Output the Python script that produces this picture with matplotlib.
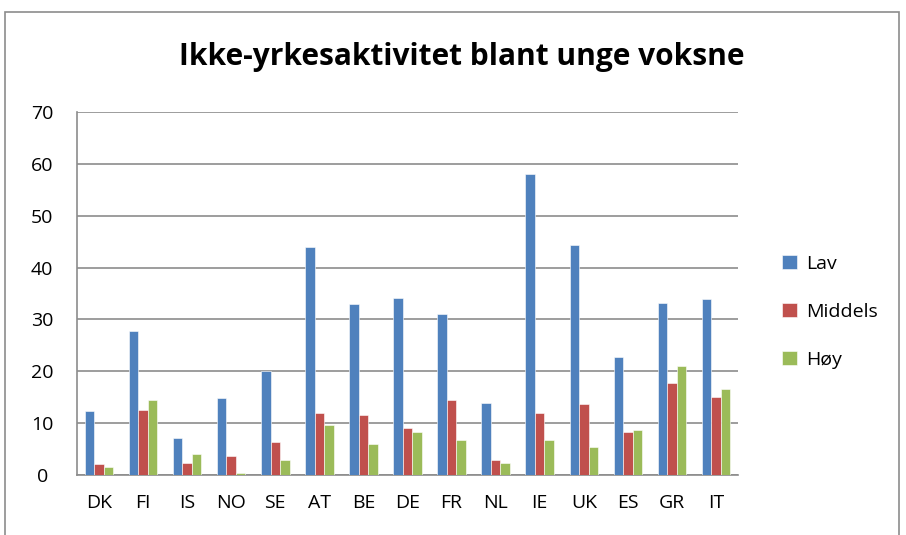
import matplotlib.pyplot as plt
import numpy as np
from matplotlib.patches import Rectangle

countries = ["DK", "FI", "IS", "NO", "SE", "AT", "BE", "DE", "FR", "NL", "IE", "UK", "ES", "GR", "IT"]
lav = [12.4, 27.7, 7.1, 14.8, 20.0, 44.0, 33.0, 34.2, 31.1, 13.9, 58.1, 44.4, 22.7, 33.1, 33.9]
middels = [2.2, 12.5, 2.4, 3.6, 6.4, 11.9, 11.6, 9.1, 14.4, 2.9, 12.0, 13.7, 8.2, 17.7, 15.0]
hoy = [1.6, 14.5, 4.0, 0.3, 2.9, 9.6, 6.0, 8.3, 6.7, 2.4, 6.7, 5.4, 8.7, 21.1, 16.5]

series = [("Lav", lav, "#4F81BD"), ("Middels", middels, "#C0504D"), ("Høy", hoy, "#9BBB59")]

plt.rcParams['font.family'] = ['Open Sans', 'DejaVu Sans']

W, H = 906, 535
fig = plt.figure(figsize=(W / 100, H / 100), dpi=100)
fig.patches.append(Rectangle((5 / W, -0.1), 894 / W, 1.1 - 12 / H, transform=fig.transFigure,
                             fill=False, edgecolor="#8c8c8c", linewidth=1.2))

ax = fig.add_axes([77 / W, 1 - 475 / H, (738 - 77) / W, (475 - 112) / H])

x = np.arange(len(countries))
w = 0.215
for i, (name, vals, col) in enumerate(series):
    ax.bar(x + (i - 1) * w, vals, w, color=col, edgecolor="white", linewidth=0.4, label=name, zorder=3)

ax.set_xlim(-0.5, len(countries) - 0.5)
ax.set_ylim(0, 70)
ax.set_yticks(range(0, 71, 10))
ax.set_xticks(x)
ax.set_xticklabels(countries)
ax.yaxis.grid(True, color="#8c8c8c", linewidth=1.2, zorder=0)
for s in ["top", "right"]:
    ax.spines[s].set_visible(False)
ax.spines["left"].set_color("#8c8c8c")
ax.spines["bottom"].set_color("#8c8c8c")
ax.spines["left"].set_linewidth(1.2)
ax.spines["bottom"].set_linewidth(1.2)
ax.tick_params(axis="y", length=0, labelsize=14, pad=25)
ax.tick_params(axis="x", length=0, labelsize=14, pad=14)
for lbl in ax.get_yticklabels():
    lbl.set_horizontalalignment("center")

fig.text(462 / W, 1 - 57 / H, "Ikke-yrkesaktivitet blant unge voksne", ha="center", va="center",
         fontsize=21.5, fontweight="bold")

ax.legend(loc="center left", bbox_to_anchor=(1.04, 0.45), frameon=False, fontsize=14,
          handlelength=0.75, handleheight=0.75, labelspacing=1.55, handletextpad=0.5)

fig.savefig("out.png", dpi=100)
